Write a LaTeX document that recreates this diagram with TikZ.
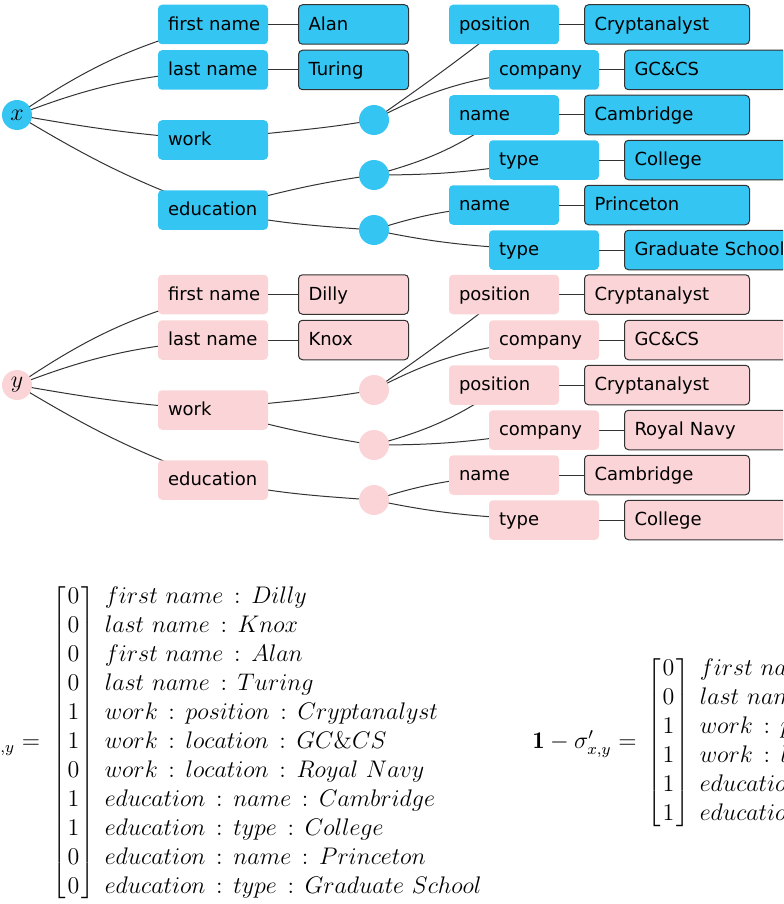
\documentclass[12pt,tikz,border=0pt]{standalone}
\usepackage{fontspec}
\newfontfamily\boxfont{DejaVu Sans}

\definecolor{xblue}{HTML}{35C5F2}
\definecolor{ypink}{HTML}{FAD4D6}

\pgfdeclarelayer{bg}
\pgfsetlayers{bg,main}

\tikzset{
  keybox/.style={rectangle, rounded corners=2pt, minimum height=19.75pt,
    text width=45pt, align=left, inner xsep=5pt, inner ysep=0pt,
    text height=6.5pt, text depth=0.8pt,
    execute at begin node=\hbox\bgroup, execute at end node=\egroup,
    font=\boxfont\fontsize{9}{11}\selectfont},
  valbox/.style={keybox, draw=black!80, line width=0.5pt, text width=72.5pt},
  shortval/.style={keybox, draw=black!80, line width=0.5pt, text width=45pt},
  hub/.style={circle, minimum size=15pt, inner sep=0pt},
  link/.style={black!80, line width=0.5pt},
}

\newcommand{\cl}{\,:\,}

\begin{document}
\begin{tikzpicture}[x=0.5pt,y=0.5pt]
    \useasboundingbox (0,0) rectangle (783,-904);
    \clip (0,0) rectangle (783,-904);
    % ---- x ----
    \node[hub, fill=xblue] (x) at (17,-115) {$x$};
    \node[keybox, fill=xblue] (xfn) at (213,-24.5) {first name};
    \node[keybox, fill=xblue] (xln) at (213,-70) {last name};
    \node[keybox, fill=xblue] (xwk) at (213,-140) {work};
    \node[keybox, fill=xblue] (xed) at (213,-210) {education};
    \node[shortval, fill=xblue] (xfnv) at (353.5,-24.5) {Alan};
    \node[shortval, fill=xblue] (xlnv) at (353.5,-70) {Turing};
    \node[hub, fill=xblue] (xw1) at (374,-120) {};
    \node[hub, fill=xblue] (xe1) at (374,-175) {};
    \node[hub, fill=xblue] (xe2) at (374,-230) {};
    \node[keybox, fill=xblue] (xw1p) at (504,-24.5) {position};
    \node[keybox, fill=xblue] (xw1c) at (544,-70) {company};
    \node[keybox, fill=xblue] (xe1n) at (504,-115) {name};
    \node[keybox, fill=xblue] (xe1t) at (544,-160) {type};
    \node[keybox, fill=xblue] (xe2n) at (504,-205) {name};
    \node[keybox, fill=xblue] (xe2t) at (544,-250) {type};
    \node[valbox, fill=xblue] (xw1pv) at (667,-24.5) {Cryptanalyst};
    \node[valbox, fill=xblue] (xw1cv) at (707,-70) {GC\&CS};
    \node[valbox, fill=xblue] (xe1nv) at (667,-115) {Cambridge};
    \node[valbox, fill=xblue] (xe1tv) at (707,-160) {College};
    \node[valbox, fill=xblue] (xe2nv) at (667,-205) {Princeton};
    \node[valbox, fill=xblue] (xe2tv) at (707,-250) {Graduate School};
    % ---- y ----
    \node[hub, fill=ypink] (y) at (17,-385) {$y$};
    \node[keybox, fill=ypink] (yfn) at (213,-294.5) {first name};
    \node[keybox, fill=ypink] (yln) at (213,-340) {last name};
    \node[keybox, fill=ypink] (ywk) at (213,-410) {work};
    \node[keybox, fill=ypink] (yed) at (213,-480) {education};
    \node[shortval, fill=ypink] (yfnv) at (353.5,-294.5) {Dilly};
    \node[shortval, fill=ypink] (ylnv) at (353.5,-340) {Knox};
    \node[hub, fill=ypink] (yw1) at (374,-390) {};
    \node[hub, fill=ypink] (yw2) at (374,-445) {};
    \node[hub, fill=ypink] (ye1) at (374,-500) {};
    \node[keybox, fill=ypink] (yw1p) at (504,-294.5) {position};
    \node[keybox, fill=ypink] (yw1c) at (544,-340) {company};
    \node[keybox, fill=ypink] (yw2p) at (504,-385) {position};
    \node[keybox, fill=ypink] (yw2c) at (544,-430) {company};
    \node[keybox, fill=ypink] (ye1n) at (504,-475) {name};
    \node[keybox, fill=ypink] (ye1t) at (544,-520) {type};
    \node[valbox, fill=ypink] (yw1pv) at (667,-294.5) {Cryptanalyst};
    \node[valbox, fill=ypink] (yw1cv) at (707,-340) {GC\&CS};
    \node[valbox, fill=ypink] (yw2pv) at (667,-385) {Cryptanalyst};
    \node[valbox, fill=ypink] (yw2cv) at (707,-430) {Royal Navy};
    \node[valbox, fill=ypink] (ye1nv) at (667,-475) {Cambridge};
    \node[valbox, fill=ypink] (ye1tv) at (707,-520) {College};
    % ---- links ----
    \begin{pgfonlayer}{bg}
    \foreach \t in {x,y} {
        \draw[link] (\t.center) to[out=34,in=195] (\t fn.center);
        \draw[link] (\t.center) to[out=21,in=185] (\t ln.center);
        \draw[link] (\t.center) to[out=-10,in=176] (\t wk.center);
        \draw[link] (\t.center) to[out=-31,in=160] (\t ed.center);
        \draw[link] (\t fn.center) -- (\t fnv.center);
        \draw[link] (\t ln.center) -- (\t lnv.center);
        \draw[link] (\t wk.center) to[out=8,in=190] (\t w1.center);
        \draw[link] (\t w1.center) to[out=35,in=218] (\t w1p.center);
        \draw[link] (\t w1.center) to[out=28,in=186] (\t w1c.center);
        \draw[link] (\t w1p.center) -- (\t w1pv.center);
        \draw[link] (\t w1c.center) -- (\t w1cv.center);
        \draw[link] (\t e1n.center) -- (\t e1nv.center);
        \draw[link] (\t e1t.center) -- (\t e1tv.center);
    }
    % x: two schools
    \draw[link] (xed.center) to[out=15,in=188] (xe1.center);
    \draw[link] (xed.center) to[out=-12,in=176] (xe2.center);
    \draw[link] (xe1.center) to[out=15,in=215] (xe1n.center);
    \draw[link] (xe1.center) to[out=0,in=190] (xe1t.center);
    \draw[link] (xe2.center) to[out=18,in=185] (xe2n.center);
    \draw[link] (xe2.center) to[out=-12,in=177] (xe2t.center);
    \draw[link] (xe2n.center) -- (xe2nv.center);
    \draw[link] (xe2t.center) -- (xe2tv.center);
    % y: two jobs
    \draw[link] (ywk.center) to[out=-15,in=171] (yw2.center);
    \draw[link] (yw2.center) to[out=15,in=215] (yw2p.center);
    \draw[link] (yw2.center) to[out=0,in=190] (yw2c.center);
    \draw[link] (yw2p.center) -- (yw2pv.center);
    \draw[link] (yw2c.center) -- (yw2cv.center);
    \draw[link] (yed.center) to[out=-12,in=176] (ye1.center);
    \draw[link] (ye1.center) to[out=18,in=185] (ye1n.center);
    \draw[link] (ye1.center) to[out=-12,in=177] (ye1t.center);
    \end{pgfonlayer}
    % ---- vectors ----
    \node[anchor=base east, inner sep=0] (simeq) at (40.5,-748.5) {$\sigma_{x,y} =$};
    \node[anchor=west, inner sep=0] (sim) at (52,-742.5) {%
      $\setlength{\arraycolsep}{1pt}\left[\begin{array}{c}
        0\\0\\0\\0\\1\\1\\0\\1\\1\\0\\0
      \end{array}\right]\hspace{3pt}
      \begin{array}{@{}l@{}}
        first\ name\cl Dilly\\
        last\ name\cl Knox\\
        first\ name\cl Alan\\
        last\ name\cl Turing\\
        work\cl position\cl Cryptanalyst\\
        work\cl location\cl GC\&CS\\
        work\cl location\cl Royal\ Navy\\
        education\cl name\cl Cambridge\\
        education\cl type\cl College\\
        education\cl name\cl Princeton\\
        education\cl type\cl Graduate\ School
      \end{array}$};
    \node[anchor=base east, inner sep=0] (dseq) at (637,-748.5) {$\mathbf{1}-\sigma'_{x,y} =$};
    \node[anchor=west, inner sep=0] (ds) at (647,-742.5) {%
      $\setlength{\arraycolsep}{1pt}\left[\begin{array}{c}
        0\\0\\1\\1\\1\\1
      \end{array}\right]\hspace{3pt}
      \begin{array}{@{}l@{}}
        first\ name\\
        last\ name\\
        work\cl position\\
        work\cl location\\
        education\cl name\\
        education\cl type
      \end{array}$};
\end{tikzpicture}
\end{document}
